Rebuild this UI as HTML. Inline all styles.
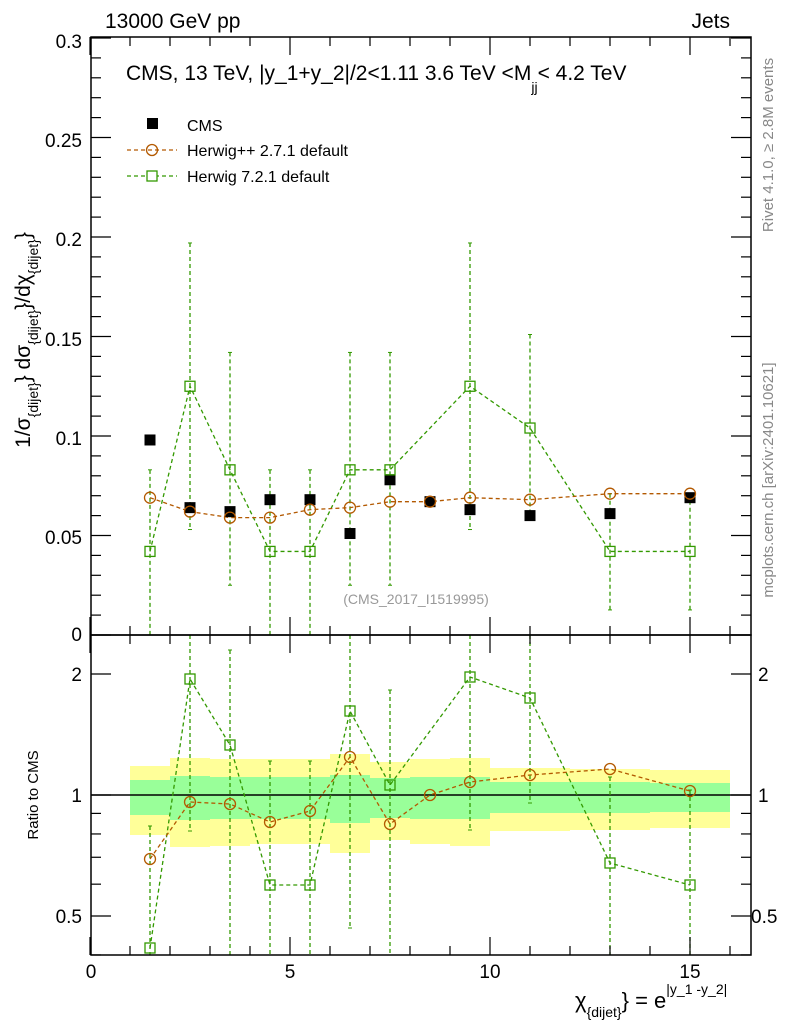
<!DOCTYPE html>
<html><head><meta charset="utf-8"><style>
body{margin:0;background:#fff;}
svg{display:block;font-family:"Liberation Sans",sans-serif;}
</style></head><body>
<svg id="s" width="786" height="1024" xmlns="http://www.w3.org/2000/svg">
<defs><clipPath id="cm"><rect x="91" y="37" width="660" height="598"/></clipPath>
<clipPath id="cr"><rect x="91" y="635" width="660" height="320"/></clipPath></defs>
<g id="bands" clip-path="url(#cr)"></g>
<g id="plot"></g>
<rect x="91" y="37" width="660" height="598" fill="none" stroke="#000" stroke-width="1.5"/>
<rect x="91" y="635" width="660" height="320" fill="none" stroke="#000" stroke-width="1.5"/>
<g id="ticks" stroke="#000" stroke-width="1.2"></g>
<text x="105" y="28" font-size="21">13000 GeV pp</text>
<text x="730" y="28" font-size="21" text-anchor="end">Jets</text>
<text x="126" y="80" font-size="21">CMS, 13 TeV, |y_1+y_2|/2&lt;1.11 3.6 TeV &lt;M<tspan font-size="14" dy="12">jj</tspan><tspan dy="-12">&lt; 4.2 TeV</tspan></text>
<rect x="147" y="118" width="11" height="11" fill="#000"/>
<text x="187" y="131" font-size="16">CMS</text>
<line x1="127" y1="150" x2="177" y2="150" stroke="#b35900" stroke-width="1.3" stroke-dasharray="4,3"/>
<circle cx="152" cy="150" r="5.5" fill="none" stroke="#b35900" stroke-width="1.3"/>
<text x="187" y="156" font-size="16">Herwig++ 2.7.1 default</text>
<line x1="127" y1="176" x2="177" y2="176" stroke="#339900" stroke-width="1.3" stroke-dasharray="4,3"/>
<rect x="147" y="171" width="10" height="10" fill="#fff" stroke="#339900" stroke-width="1.3"/>
<text x="187" y="182" font-size="16">Herwig 7.2.1 default</text>
<text x="416" y="604" font-size="14" fill="#999" text-anchor="middle">(CMS_2017_I1519995)</text>
<g font-size="19" text-anchor="end">
<text x="82" y="48">0.3</text><text x="82" y="147">0.25</text><text x="82" y="246">0.2</text>
<text x="82" y="346">0.15</text><text x="82" y="445">0.1</text><text x="82" y="544">0.05</text>
<text x="82" y="641">0</text>
<text x="82" y="681">2</text><text x="82" y="802">1</text><text x="82" y="923">0.5</text>
</g>
<g font-size="19">
<text x="758" y="681">2</text><text x="758" y="802">1</text><text x="751" y="923">0.5</text>
</g>
<g font-size="19" text-anchor="middle">
<text x="91" y="978">0</text><text x="290" y="978">5</text><text x="490" y="978">10</text><text x="690" y="978">15</text>
</g>
<text x="575" y="1008" font-size="22">χ<tspan font-size="14" dy="9">{dijet}</tspan><tspan dy="-9">} = e</tspan><tspan font-size="14" dy="-14">|y_1 -y_2|</tspan></text>
<text transform="translate(30,340) rotate(-90)" font-size="21" text-anchor="middle">1/σ<tspan font-size="14" dy="8">{dijet}</tspan><tspan dy="-8">} dσ</tspan><tspan font-size="14" dy="8">{dijet}</tspan><tspan dy="-8">}/dχ</tspan><tspan font-size="14" dy="8">{dijet}</tspan><tspan dy="-8">}</tspan></text>
<text transform="translate(38,795) rotate(-90)" font-size="15" text-anchor="middle">Ratio to CMS</text>
<text transform="translate(773,145) rotate(-90)" font-size="15" fill="#888" text-anchor="middle">Rivet 4.1.0, ≥ 2.8M events</text>
<text transform="translate(773,480) rotate(-90)" font-size="15" fill="#888" text-anchor="middle">mcplots.cern.ch [arXiv:2401.10621]</text>
</svg>
<script>
const NS="http://www.w3.org/2000/svg";
function el(p,t,a){const e=document.createElementNS(NS,t);for(const k in a)e.setAttribute(k,a[k]);p.appendChild(e);return e;}
const X=x=>90+40*x, Y=v=>635-1990*v;
const bands=document.getElementById('bands'),plot=document.getElementById('plot'),tk=document.getElementById('ticks');
const edges=[1,2,3,4,5,6,7,8,9,10,12,14,16];
const yb=[[766,835,780,815],[758,847,776,820],[759,846,777,819],[759,844,777,819],[759,844,777,819],[754,853,775,823],[762,840,778,818],[759,844,777,819],[758,846,777,819],[768,831,782,813],[769,830,782,813],[770,828,783,812]];
yb.forEach((b,i)=>{el(bands,'rect',{x:X(edges[i]),y:b[0],width:X(edges[i+1])-X(edges[i]),height:b[1]-b[0],fill:'#ffff99'});});
yb.forEach((b,i)=>{el(bands,'rect',{x:X(edges[i]),y:b[2],width:X(edges[i+1])-X(edges[i]),height:b[3]-b[2],fill:'#99ff99'});});
el(plot,'line',{x1:91,y1:795,x2:751,y2:795,stroke:'#000','stroke-width':1.5});
const xs=[1.5,2.5,3.5,4.5,5.5,6.5,7.5,8.5,9.5,11,13,15];
const cms=[0.098,0.064,0.062,0.068,0.068,0.051,0.078,0.067,0.063,0.060,0.061,0.069];
const hpp=[0.069,0.062,0.059,0.059,0.063,0.064,0.067,0.067,0.069,0.068,0.071,0.071];
const h7=[0.042,0.125,0.083,0.042,0.042,0.083,0.083,null,0.125,0.104,0.042,0.042];
const h7e=[[0.083,-0.1],[0.197,0.053],[0.142,0.025],[0.083,-0.1],[0.083,-0.1],[0.142,0.025],[0.142,0.025],null,[0.197,0.053],[0.151,0.0586],[0.071,0.0126],[0.071,0.0126]];
const hppR=[859,802,804,822,811,757,824,795,782,775,769,791];
const h7R=[948,679,745,885,885,711,785,null,677,698,863,885];
const h7Re=[[826,1000],[600,831],[650,1000],[761,1000],[761,1000],[600,928],[690,1000],null,[600,830],[600,803],[777,1000],[790,1000]];
const G='#339900',O='#b35900';
const gm=el(plot,'g',{'clip-path':'url(#cm)'}),gr=el(plot,'g',{'clip-path':'url(#cr)'});
function series(g,pts,col){let d='';pts.forEach((p,i)=>{if(p)d+=(d?'L':'M')+p[0]+' '+p[1];});el(g,'path',{d:d,fill:'none',stroke:col,'stroke-width':1.3,'stroke-dasharray':'4,3'});}
h7e.forEach((e,i)=>{if(!e)return;el(gm,'line',{x1:X(xs[i]),x2:X(xs[i]),y1:Y(e[0]),y2:Y(e[1]),stroke:G,'stroke-width':1.3,'stroke-dasharray':'4,3'});el(gm,'line',{x1:X(xs[i])-2,x2:X(xs[i])+2,y1:Y(e[0]),y2:Y(e[0]),stroke:G});el(gm,'line',{x1:X(xs[i])-2,x2:X(xs[i])+2,y1:Y(e[1]),y2:Y(e[1]),stroke:G});});
series(gm,h7.map((v,i)=>v==null?null:[X(xs[i]),Y(v)]),G);
series(gm,hpp.map((v,i)=>[X(xs[i]),Y(v)]),O);
cms.forEach((v,i)=>el(gm,'rect',{x:X(xs[i])-5.5,y:Y(v)-5.5,width:11,height:11,fill:'#000'}));
hpp.forEach((v,i)=>el(gm,'circle',{cx:X(xs[i]),cy:Y(v),r:5.5,fill:'none',stroke:O,'stroke-width':1.3}));
h7.forEach((v,i)=>{if(v!=null)el(gm,'rect',{x:X(xs[i])-5,y:Y(v)-5,width:10,height:10,fill:'none',stroke:G,'stroke-width':1.3});});
h7Re.forEach((e,i)=>{if(!e)return;el(gr,'line',{x1:X(xs[i]),x2:X(xs[i]),y1:e[0],y2:e[1],stroke:G,'stroke-width':1.3,'stroke-dasharray':'4,3'});el(gr,'line',{x1:X(xs[i])-2,x2:X(xs[i])+2,y1:e[0],y2:e[0],stroke:G});el(gr,'line',{x1:X(xs[i])-2,x2:X(xs[i])+2,y1:e[1],y2:e[1],stroke:G});});
series(gr,h7R.map((v,i)=>v==null?null:[X(xs[i]),v]),G);
series(gr,hppR.map((v,i)=>[X(xs[i]),v]),O);
hppR.forEach((v,i)=>el(gr,'circle',{cx:X(xs[i]),cy:v,r:5.5,fill:'none',stroke:O,'stroke-width':1.3}));
h7R.forEach((v,i)=>{if(v!=null)el(gr,'rect',{x:X(xs[i])-5,y:v-5,width:10,height:10,fill:'none',stroke:G,'stroke-width':1.3});});
function L(x1,y1,x2,y2){el(tk,'line',{x1,y1,x2,y2});}
for(let i=0;i<=30;i++){const y=Y(i/100);const len=i%5==0?20:10;L(91,y,91+len,y);L(751,y,751-len,y);}
for(let x=0;x<=16;x++){const px=X(x);const len=x%5==0?18:9;
 L(px,635,px,635-len);L(px,37,px,37+len);L(px,955,px,955-len);L(px,635,px,635+len);}
const rv=[0.4,0.5,0.6,0.7,0.8,0.9,1,2];
rv.forEach(r=>{const y=795-121*Math.log2(r);const len=(r==0.5||r==1||r==2)?20:10;L(91,y,91+len,y);L(751,y,751-len,y);});
</script>
</body></html>
